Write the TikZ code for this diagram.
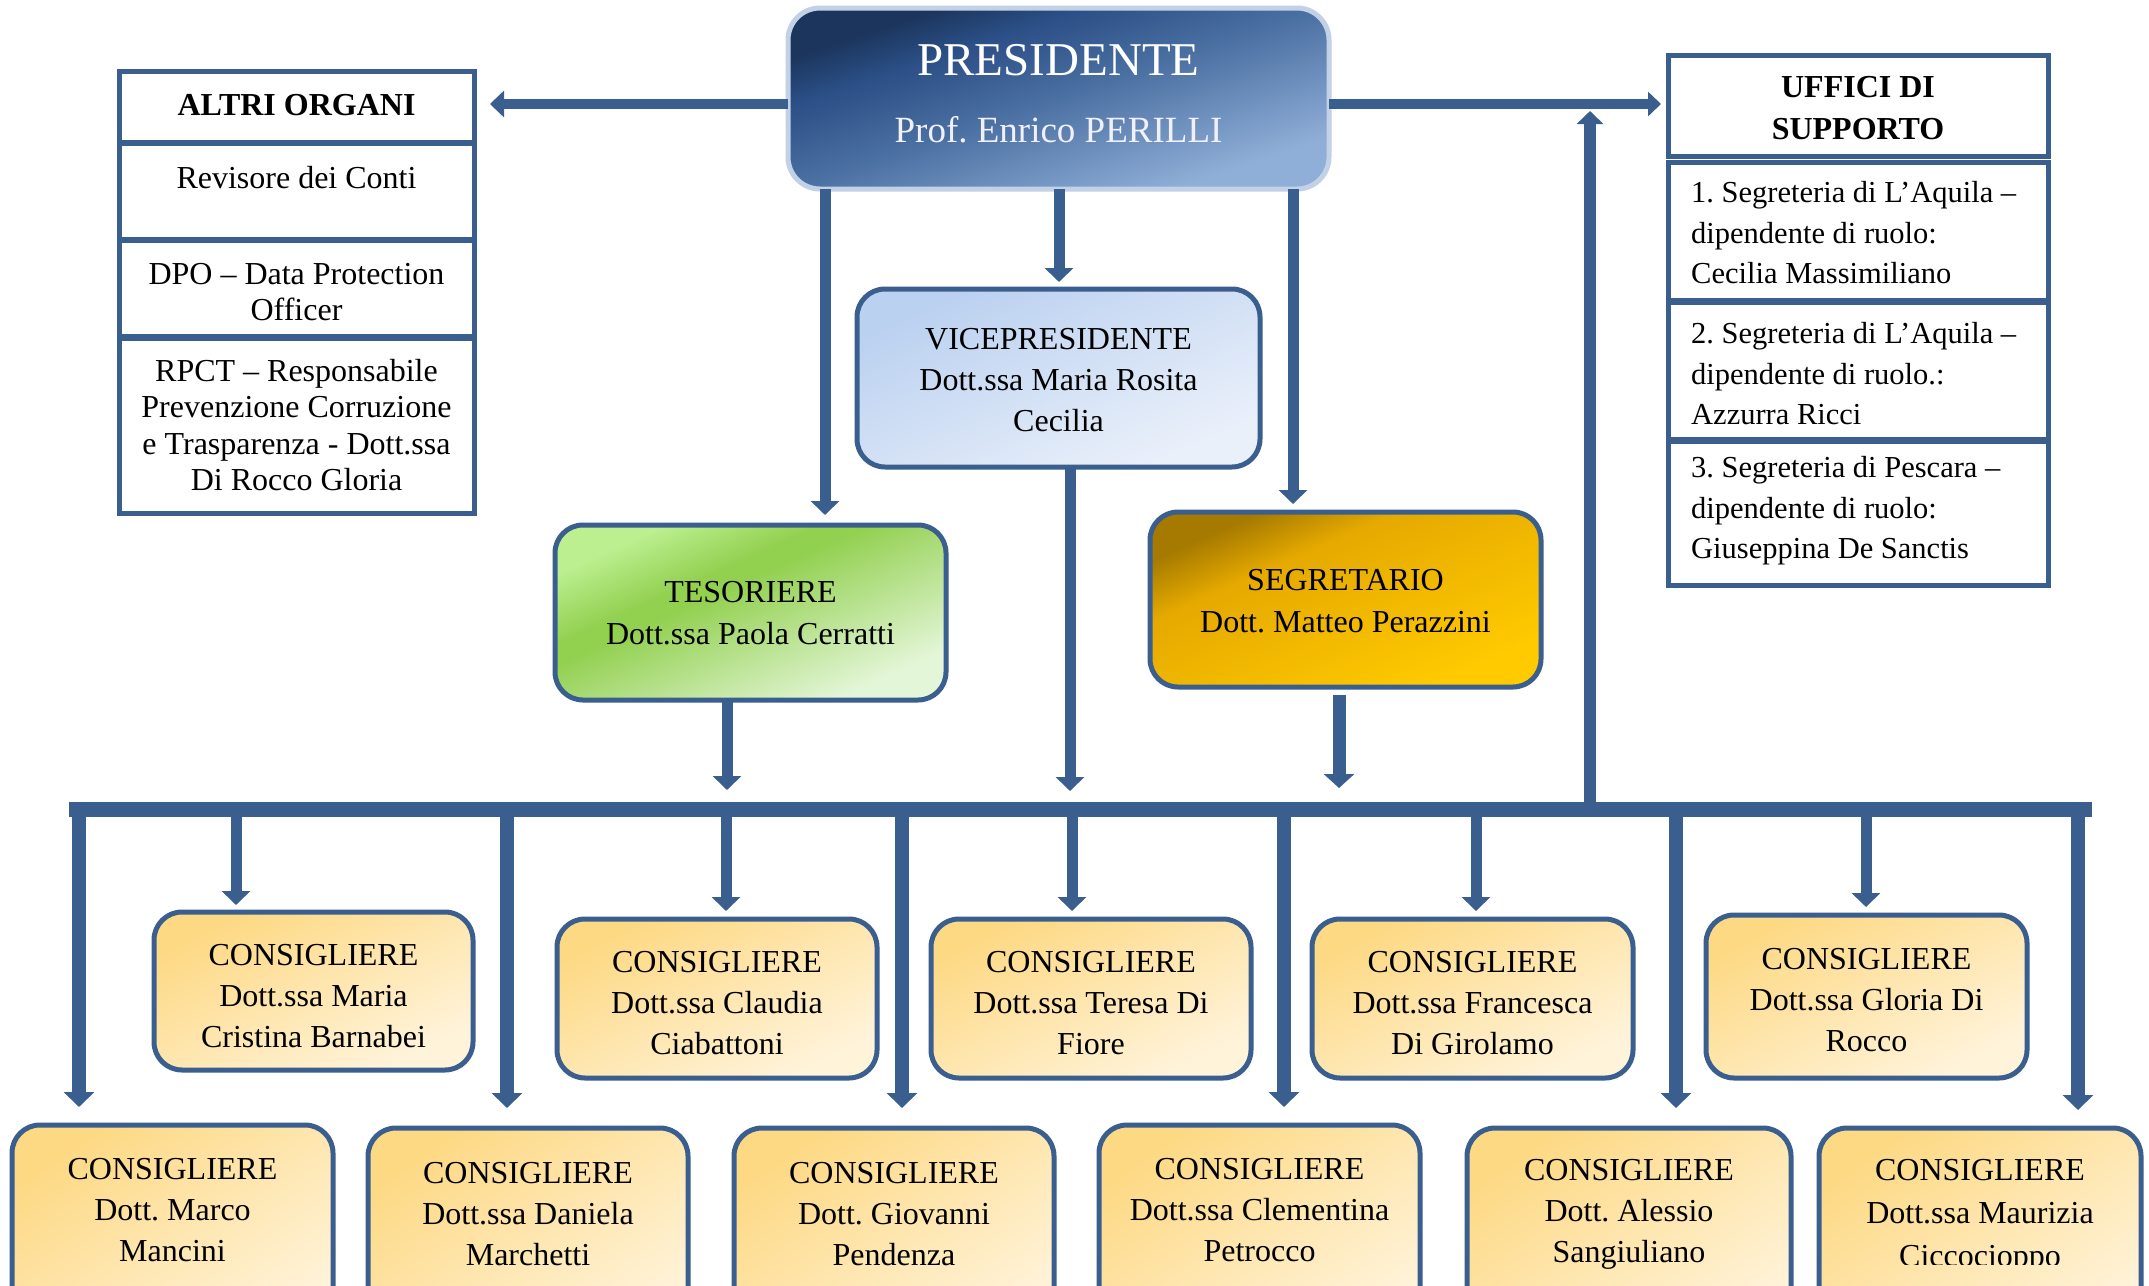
\documentclass[tikz,border=0pt]{standalone}
\usepackage{fontspec}
\setmainfont{Liberation Serif}
\usetikzlibrary{arrows.meta}
\definecolor{lblue}{HTML}{3A5F8F}
\definecolor{presA}{HTML}{1C355D}
\definecolor{presA2}{HTML}{2B4F86}
\definecolor{presM}{HTML}{4B70A2}
\definecolor{presB}{HTML}{90AFD8}
\definecolor{presBorder}{HTML}{C3D1E6}
\definecolor{viceA}{HTML}{BBD1F0}
\definecolor{viceB}{HTML}{EAF0FA}
\definecolor{tesA}{HTML}{BCEF90}
\definecolor{tesM}{HTML}{92D050}
\definecolor{tesB}{HTML}{E4F6D8}
\definecolor{segA}{HTML}{A67A00}
\definecolor{segM}{HTML}{E5A900}
\definecolor{segB}{HTML}{FFCA00}
\definecolor{conA}{HTML}{FDD984}
\definecolor{conB}{HTML}{FFF3DA}
\pgfdeclareverticalshading{presshade}{100bp}{color(0bp)=(presB); color(25bp)=(presB); color(50bp)=(presM); color(66bp)=(presA2); color(75bp)=(presA); color(100bp)=(presA)}
\pgfdeclareverticalshading{tesshade}{100bp}{color(0bp)=(tesB); color(25bp)=(tesB); color(57bp)=(tesM); color(61bp)=(tesM); color(75bp)=(tesA); color(100bp)=(tesA)}
\pgfdeclareverticalshading{segshade}{100bp}{color(0bp)=(segB); color(25bp)=(segB); color(63bp)=(segM); color(75bp)=(segA); color(100bp)=(segA)}
\pgfdeclareverticalshading{viceshade}{100bp}{color(0bp)=(viceB); color(25bp)=(viceB); color(75bp)=(viceA); color(100bp)=(viceA)}
\pgfdeclareverticalshading{conshade}{100bp}{color(0bp)=(conB); color(25bp)=(conB); color(75bp)=(conA); color(100bp)=(conA)}
\pgfdeclarelayer{back}
\pgfdeclarelayer{bg}
\pgfsetlayers{back,bg,main}
% diagonal fill of a rounded box: node, shading, width, height, radius
\newcommand\mydiagfill[5]{%
  \begin{pgfonlayer}{bg}
  \begin{scope}
    \clip[rounded corners=#5] (#1.south west) rectangle (#1.north east);
    \shade[shading=#2, shading angle=45,
      transform canvas={shift={(#1.center)}, xscale=#3/#4}]
      (-#4/2-2,-#4/2-2) rectangle (#4/2+2,#4/2+2);
  \end{scope}
  \end{pgfonlayer}}
\frenchspacing
\begin{document}
\begin{tikzpicture}[x=1pt,y=-1pt,
  conn/.style={draw=lblue, line width=11pt},
  arrw/.style={conn, -{Triangle[length=14pt,width=28pt]}},
  longarrw/.style={draw=lblue, line width=14pt, -{Triangle[length=15pt,width=30pt]}},
  sidebox/.style={draw=lblue, line width=5pt, rectangle, inner sep=0pt, fill=white},
  rbox/.style={draw=lblue, line width=5pt, rectangle, rounded corners=28pt, inner sep=0pt, outer sep=0pt},
  conbox/.style={rbox},
  txt/.style={align=center, inner sep=0pt, font=\fontsize{32}{41}\selectfont},
  sidetxt/.style={align=center, inner sep=0pt, font=\fontsize{32}{36.5}\selectfont},
  ufftxt/.style={align=left, inner sep=0pt, anchor=west, font=\fontsize{30.5}{40.5}\selectfont},
]
\useasboundingbox (0,0) rectangle (2149,1285);
\begin{pgfonlayer}{back}
\fill[white] (0,0) rectangle (2149,1285);
\end{pgfonlayer}

% ---------- coordinates for connectors ----------
\coordinate (busL) at (69,809.5);
\coordinate (busR) at (2092,809.5);
\coordinate (altriTip) at (490,104);
\coordinate (uffTip) at (1661,104);
\coordinate (upTip) at (1590,111);
\coordinate (tTes) at (825,515);
\coordinate (tVice) at (1059,282);
\coordinate (tSeg) at (1293,504);
\coordinate (tV2) at (1070,791);
\coordinate (tT2) at (727,790);
\coordinate (sStart) at (1339,695);
\coordinate (tS2) at (1339,788);
\coordinate (s1) at (236,905);
\coordinate (s2) at (726,911);
\coordinate (s3) at (1072,911);
\coordinate (s4) at (1476,911);
\coordinate (s5) at (1866,907);
\coordinate (l1) at (79,1107);
\coordinate (l2) at (507,1108);
\coordinate (l3) at (902,1108);
\coordinate (l4) at (1284,1107);
\coordinate (l5) at (1676,1108);
\coordinate (l6) at (2078,1110);

% ---------- PRESIDENTE ----------
\node[draw=presBorder, line width=5pt, rectangle, rounded corners=32pt, inner sep=0pt, outer sep=0pt,
      minimum width=541pt, minimum height=181pt] (pres) at (1058.5,98.5) {};
\mydiagfill{pres}{presshade}{541}{181}{32pt}
\node[inner sep=0pt, text=white, font=\fontsize{47}{50}\selectfont] (presT) at (1058.5,60) {PRESIDENTE};
\node[inner sep=0pt, text=white!94!blue, font=\fontsize{37}{40}\selectfont] (presN) at (1058.5,130) {Prof. Enrico PERILLI};

% ---------- ALTRI ORGANI ----------
\node[sidebox, minimum width=355pt, minimum height=71pt] (altri) at (296.5,106.5) {};
\node[sidebox, minimum width=355pt, minimum height=96pt] (rev) at (296.5,191) {};
\node[sidebox, minimum width=355pt, minimum height=96pt] (dpo) at (296.5,288) {};
\node[sidebox, minimum width=355pt, minimum height=175pt] (rpct) at (296.5,425.5) {};
\node[sidetxt, font=\bfseries\fontsize{32}{36.5}\selectfont] (altriT) at (296.5,105) {ALTRI ORGANI};
\node[sidetxt] (revT) at (296.5,178) {Revisore dei Conti};
\node[sidetxt] (dpoT) at (296.5,292) {DPO -- Data Protection\\Officer};
\node[sidetxt] (rpctT) at (296.5,425) {RPCT -- Responsabile\\Prevenzione Corruzione\\e Trasparenza - Dott.ssa\\Di Rocco Gloria};

% ---------- UFFICI DI SUPPORTO ----------
\node[sidebox, minimum width=380pt, minimum height=101pt] (uff) at (1858,105.5) {};
\node[sidebox, minimum width=380pt, minimum height=138pt] (u1) at (1858,231) {};
\node[sidebox, minimum width=380pt, minimum height=137pt] (u2) at (1858,370.5) {};
\node[sidebox, minimum width=380pt, minimum height=144pt] (u3) at (1858,513) {};
\node[align=center, inner sep=0pt, font=\bfseries\fontsize{32}{42}\selectfont] (uffT) at (1858,108) {UFFICI DI\\SUPPORTO};
\node[ufftxt] (u1T) at (1691,233) {1. Segreteria di L’Aquila --\\dipendente di ruolo:\\Cecilia Massimiliano};
\node[ufftxt] (u2T) at (1691,374) {2. Segreteria di L’Aquila --\\dipendente di ruolo.:\\Azzurra Ricci};
\node[ufftxt] (u3T) at (1691,511) {3. Segreteria di Pescara --\\dipendente di ruolo:\\Giuseppina De Sanctis};

% ---------- VICE, TESORIERE, SEGRETARIO ----------
\node[rbox, minimum width=403pt, minimum height=178pt] (vice) at (1058.5,378) {};
\mydiagfill{vice}{viceshade}{403}{178}{28pt}
\node[txt] (viceT) at (1058.5,380) {VICEPRESIDENTE\\Dott.ssa Maria Rosita\\Cecilia};
\node[rbox, minimum width=391pt, minimum height=175pt] (tes) at (750.5,612.5) {};
\mydiagfill{tes}{tesshade}{391}{175}{28pt}
\node[txt, font=\fontsize{32}{42}\selectfont] (tesT) at (750.5,613) {TESORIERE\\Dott.ssa Paola Cerratti};
\node[rbox, minimum width=391pt, minimum height=175pt] (seg) at (1345.5,599.5) {};
\mydiagfill{seg}{segshade}{391}{175}{28pt}
\node[txt, font=\fontsize{32}{42}\selectfont] (segT) at (1345.5,601) {SEGRETARIO\\Dott. Matteo Perazzini};

% ---------- CONSIGLIERI top row ----------
\node[conbox, minimum width=319pt, minimum height=158pt] (c1) at (313.5,991) {};
\node[conbox, minimum width=320pt, minimum height=159pt] (c2) at (717,998.5) {};
\node[conbox, minimum width=320pt, minimum height=159pt] (c3) at (1091,998.5) {};
\node[conbox, minimum width=321pt, minimum height=159pt] (c4) at (1472.5,998.5) {};
\node[conbox, minimum width=321pt, minimum height=163pt] (c5) at (1866.5,996.5) {};
\mydiagfill{c1}{conshade}{319}{158}{28pt}
\mydiagfill{c2}{conshade}{320}{159}{28pt}
\mydiagfill{c3}{conshade}{320}{159}{28pt}
\mydiagfill{c4}{conshade}{321}{159}{28pt}
\mydiagfill{c5}{conshade}{321}{163}{28pt}
\node[txt] (c1T) at (313.5,996) {CONSIGLIERE\\Dott.ssa Maria\\Cristina Barnabei};
\node[txt] (c2T) at (717,1003) {CONSIGLIERE\\Dott.ssa Claudia\\Ciabattoni};
\node[txt] (c3T) at (1091,1003) {CONSIGLIERE\\Dott.ssa Teresa Di\\Fiore};
\node[txt] (c4T) at (1472.5,1003) {CONSIGLIERE\\Dott.ssa Francesca\\Di Girolamo};
\node[txt] (c5T) at (1866.5,1000) {CONSIGLIERE\\Dott.ssa Gloria Di\\Rocco};

% ---------- CONSIGLIERI bottom row ----------
\node[conbox, minimum width=321pt, minimum height=220pt] (d1) at (172.5,1235) {};
\node[conbox, minimum width=320pt, minimum height=220pt] (d2) at (528,1238) {};
\node[conbox, minimum width=320pt, minimum height=220pt] (d3) at (894,1238) {};
\node[conbox, minimum width=321pt, minimum height=220pt] (d4) at (1259.5,1235) {};
\node[conbox, minimum width=324pt, minimum height=220pt] (d5) at (1629,1238) {};
\node[conbox, minimum width=322pt, minimum height=220pt] (d6) at (1980,1238) {};
\mydiagfill{d1}{conshade}{321}{220}{28pt}
\mydiagfill{d2}{conshade}{320}{220}{28pt}
\mydiagfill{d3}{conshade}{320}{220}{28pt}
\mydiagfill{d4}{conshade}{321}{220}{28pt}
\mydiagfill{d5}{conshade}{324}{220}{28pt}
\mydiagfill{d6}{conshade}{322}{220}{28pt}
\node[txt] (d1T) at (172.5,1210) {CONSIGLIERE\\Dott. Marco\\Mancini};
\node[txt] (d2T) at (528,1214) {CONSIGLIERE\\Dott.ssa Daniela\\Marchetti};
\node[txt] (d3T) at (894,1214) {CONSIGLIERE\\Dott. Giovanni\\Pendenza};
\node[txt] (d4T) at (1259.5,1210) {CONSIGLIERE\\Dott.ssa Clementina\\Petrocco};
\node[txt] (d5T) at (1629,1214) {CONSIGLIERE\\Dott. Alessio\\Sangiuliano};
\begin{scope}
\clip (1819,1128) rectangle (2141,1264);
\node[txt, font=\fontsize{32}{43}\selectfont] (d6T) at (1980,1216) {CONSIGLIERE\\Dott.ssa Maurizia\\Ciccocioppo};
\end{scope}

% ---------- connectors ----------
\draw[draw=lblue, line width=10pt, -{Triangle[length=14pt,width=26pt]}] (pres.west |- altriTip) -- (altriTip);
\draw[draw=lblue, line width=10pt, -{Triangle[length=13pt,width=24pt]}] (pres.east |- uffTip) -- (uffTip);
\draw[draw=lblue, line width=12pt, -{Triangle[length=13pt,width=26pt]}] (upTip |- busL) -- (upTip);
\draw[arrw] (pres.south -| tTes) -- (tTes);
\draw[arrw] (pres.south -| tVice) -- (tVice);
\draw[arrw] (pres.south -| tSeg) -- (tSeg);
\draw[arrw] (vice.south -| tV2) -- (tV2);
\draw[arrw] (tes.south -| tT2) -- (tT2);
\draw[draw=lblue, line width=13pt, -{Triangle[length=14pt,width=30pt]}] (sStart) -- (tS2);
\foreach \p in {s1,s2,s3,s4,s5}{
  \draw[arrw] (\p |- busL) -- (\p);
}
\foreach \p in {l1,l2,l3,l4,l5,l6}{
  \draw[longarrw] (\p |- busL) -- (\p);
}
\draw[draw=lblue, line width=15pt] (busL) -- (busR);
\end{tikzpicture}
\end{document}
